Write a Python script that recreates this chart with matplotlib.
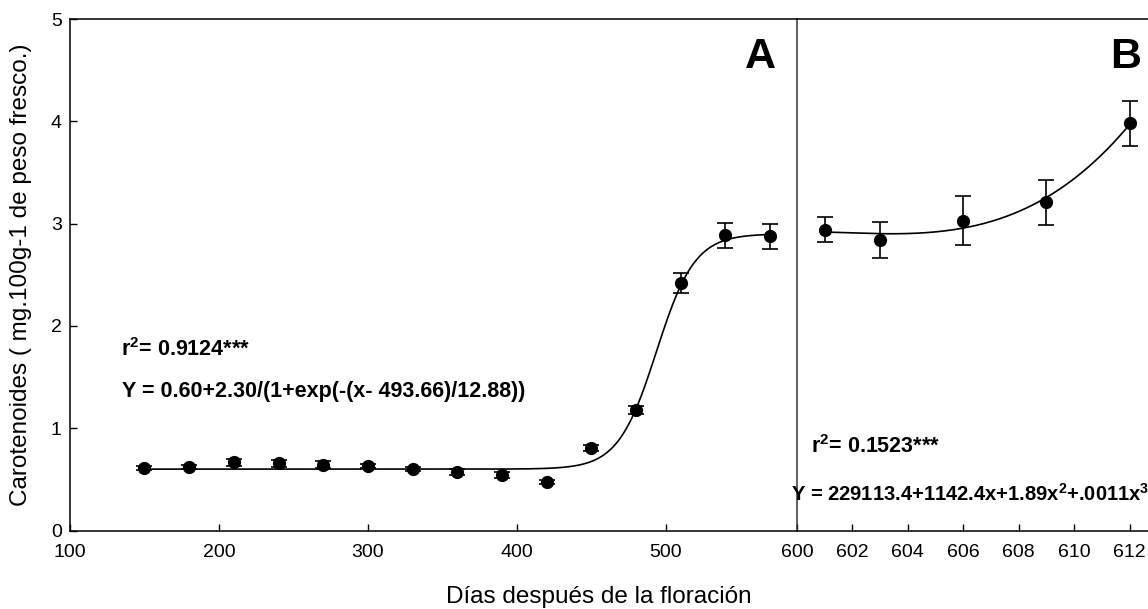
import numpy as np
import matplotlib
matplotlib.use("Agg")
import matplotlib.pyplot as plt

plt.rcParams['font.family'] = ['Liberation Sans', 'DejaVu Sans']
plt.rcParams['mathtext.fontset'] = 'custom'
plt.rcParams['mathtext.rm'] = 'Liberation Sans'
plt.rcParams['mathtext.bf'] = 'Liberation Sans:bold'

# Panel A: dias 150-570
dias_a = [150, 180, 210, 240, 270, 300, 330, 360, 390, 420, 450, 480, 510, 540, 570]
carot_a = [0.61, 0.62, 0.665, 0.655, 0.645, 0.63, 0.60, 0.57, 0.54, 0.47, 0.81, 1.18, 2.42, 2.885, 2.875]
err_a = [0.02, 0.02, 0.03, 0.03, 0.03, 0.02, 0.02, 0.03, 0.03, 0.02, 0.03, 0.04, 0.10, 0.12, 0.12]

# Panel B: dias 601-612
dias_b = [601, 603, 606, 609, 612]
carot_b = [2.94, 2.84, 3.03, 3.21, 3.98]
err_b = [0.12, 0.18, 0.235, 0.22, 0.22]

# modelo sigmoidal del panel A (ecuacion del grafico)
y0, a, x0, b = 0.60, 2.30, 493.66, 12.88

fig = plt.figure(figsize=(11.48, 6.09), dpi=100)
axA = fig.add_axes([70/1148, 78.5/609, 727/1148, 511.5/609])
axB = fig.add_axes([797/1148, 78.5/609, 388/1148, 511.5/609])

xs = np.linspace(150, 570, 400)
axA.plot(xs, y0 + a / (1 + np.exp(-(xs - x0) / b)), color='black', lw=1.2)
axA.errorbar(dias_a, carot_a, yerr=err_a, fmt='o', color='black', ms=8.5,
             capsize=5.5, elinewidth=1.2, capthick=1.2)

# ajuste cubico del panel B
coef = np.polyfit(dias_b, carot_b, 3)
xb = np.linspace(601, 612, 200)
axB.plot(xb, np.polyval(coef, xb), color='black', lw=1.2)
axB.errorbar(dias_b, carot_b, yerr=err_b, fmt='o', color='black', ms=8.5,
             capsize=5.5, elinewidth=1.2, capthick=1.2)

axA.set_xlim(100, 588)
axA.set_ylim(0, 5)
axA.set_xticks([100, 200, 300, 400, 500])
axA.set_yticks([0, 1, 2, 3, 4, 5])
axA.spines['right'].set_visible(False)
for s in ['left', 'bottom', 'top']:
    axA.spines[s].set_linewidth(1.1)
axA.tick_params(direction='in', length=5, width=1, labelsize=14)
axA.tick_params(axis='x', pad=10)
axA.tick_params(axis='y', pad=6)

axB.set_xlim(600, 614)
axB.set_ylim(0, 5)
axB.set_xticks([600, 602, 604, 606, 608, 610, 612])
axB.set_yticks([])
axB.spines['right'].set_visible(False)
for s in ['left', 'bottom', 'top']:
    axB.spines[s].set_linewidth(1.1)
axB.spines['left'].set_color('#333333')
axB.tick_params(direction='in', length=5, width=1, labelsize=14, pad=10)

fig.text(21/1148, 1 - 275/609, 'Carotenoides ( mg.100g-1 de peso fresco.)',
         fontsize=17.5, rotation=90, ha='center', va='center')
fig.text(599/1148, 1 - 603/609, 'Días después de la floración', fontsize=17.5,
         ha='center', va='baseline')

axA.text(574, 4.63, 'A', fontsize=31, fontweight='bold', ha='right', va='center')
axB.text(612.4, 4.63, 'B', fontsize=31, fontweight='bold', ha='right', va='center')

axA.text(134, 1.77, r'r$^{\mathbf{2}}$= 0.9124***', fontsize=15.5, fontweight='bold',
         ha='left', va='center')
axA.text(135, 1.355, 'Y = 0.60+2.30/(1+exp(-(x- 493.66)/12.88))', fontsize=15.5,
         fontweight='bold', ha='left', va='center')
axB.text(600.5, 0.82, r'r$^{\mathbf{2}}$= 0.1523***', fontsize=15.5, fontweight='bold',
         ha='left', va='center')
axB.text(599.8, 0.36, r'Y = 229113.4+1142.4x+1.89x$^{\mathbf{2}}$+.0011x$^{\mathbf{3}}$',
         fontsize=14.5, fontweight='bold', ha='left', va='center')

fig.savefig('out.png', dpi=100)
